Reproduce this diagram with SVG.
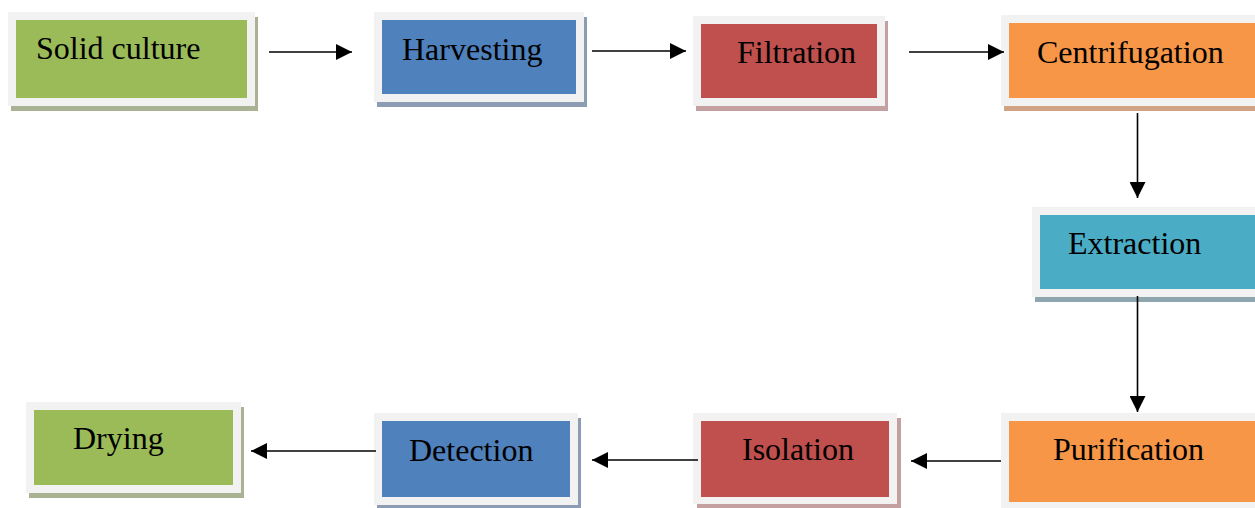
<svg xmlns="http://www.w3.org/2000/svg" width="1255" height="508" viewBox="0 0 1255 508">
  <style>
    .frame { fill: #f2f2f2; }
    .label { font-family: "Liberation Serif", "Times New Roman", serif; font-size: 32px; fill: #000; }
    .green { fill: #9bbb59; }
    .blue { fill: #4f81bd; }
    .red { fill: #c0504d; }
    .orange { fill: #f79646; }
    .teal { fill: #4bacc6; }
    .sh-green { fill: #a9b393; }
    .sh-blue { fill: #8c9db3; }
    .sh-red { fill: #c4a0a0; }
    .sh-orange { fill: #cfa383; }
    .sh-teal { fill: #8fa6ae; }
    .conn { stroke: #000; stroke-width: 1.6; fill: none; marker-end: url(#arrow); }
  </style>
  <defs>
    <marker id="arrow" viewBox="0 0 16 16" refX="16" refY="8" markerWidth="16" markerHeight="16" markerUnits="userSpaceOnUse" orient="auto">
      <path d="M0,0 L16,8 L0,16 Z" fill="#000"/>
    </marker>
  </defs>
  <rect width="1255" height="508" fill="#ffffff"/>

  <g id="node-solid-culture">
    <rect class="sh-green" x="11" y="17" width="247" height="94"/>
    <rect class="frame" x="8" y="12" width="247" height="94"/>
    <rect class="green" x="16" y="20" width="231" height="78"/>
    <text class="label" x="36" y="59">Solid culture</text>
  </g>

  <g id="node-harvesting">
    <rect class="sh-blue" x="377" y="17" width="210" height="90"/>
    <rect class="frame" x="374" y="12" width="210" height="90"/>
    <rect class="blue" x="382" y="20" width="194" height="74"/>
    <text class="label" x="402" y="60">Harvesting</text>
  </g>

  <g id="node-filtration">
    <rect class="sh-red" x="696" y="21" width="192" height="90"/>
    <rect class="frame" x="693" y="16" width="192" height="90"/>
    <rect class="red" x="701" y="24" width="176" height="74"/>
    <text class="label" x="737" y="63">Filtration</text>
  </g>

  <g id="node-centrifugation">
    <rect class="sh-orange" x="1004" y="20" width="270" height="91"/>
    <rect class="frame" x="1001" y="15" width="270" height="91"/>
    <rect class="orange" x="1009" y="23" width="254" height="75"/>
    <text class="label" x="1037" y="63">Centrifugation</text>
  </g>

  <g id="node-extraction">
    <rect class="sh-teal" x="1035" y="212" width="240" height="90"/>
    <rect class="frame" x="1032" y="207" width="240" height="90"/>
    <rect class="teal" x="1040" y="215" width="224" height="74"/>
    <text class="label" x="1068" y="254">Extraction</text>
  </g>

  <g id="node-purification">
    <rect class="sh-orange" x="1004" y="418" width="270" height="97"/>
    <rect class="frame" x="1001" y="413" width="270" height="97"/>
    <rect class="orange" x="1009" y="421" width="254" height="81"/>
    <text class="label" x="1053" y="460">Purification</text>
  </g>

  <g id="node-isolation">
    <rect class="sh-red" x="697" y="418" width="204" height="91"/>
    <rect class="frame" x="693" y="413" width="204" height="91"/>
    <rect class="red" x="701" y="421" width="188" height="76"/>
    <text class="label" x="742" y="460">Isolation</text>
  </g>

  <g id="node-detection">
    <rect class="sh-blue" x="377" y="418" width="204" height="92"/>
    <rect class="frame" x="374" y="413" width="204" height="92"/>
    <rect class="blue" x="382" y="421" width="188" height="76"/>
    <text class="label" x="409" y="461">Detection</text>
  </g>

  <g id="node-drying">
    <rect class="sh-green" x="29" y="407" width="215" height="91"/>
    <rect class="frame" x="26" y="402" width="215" height="91"/>
    <rect class="green" x="34" y="410" width="199" height="75"/>
    <text class="label" x="73" y="449">Drying</text>
  </g>

  <g id="connectors">
    <line class="conn" x1="269" y1="52" x2="352" y2="52"/>
    <line class="conn" x1="592" y1="51" x2="686" y2="51"/>
    <line class="conn" x1="909" y1="52" x2="1004" y2="52"/>
    <line class="conn" x1="1137.5" y1="113" x2="1137.5" y2="198"/>
    <line class="conn" x1="1137.5" y1="296" x2="1137.5" y2="412"/>
    <line class="conn" x1="1001" y1="461" x2="911" y2="461"/>
    <line class="conn" x1="698" y1="460" x2="592" y2="460"/>
    <line class="conn" x1="376" y1="451" x2="251" y2="451"/>
  </g>
</svg>
